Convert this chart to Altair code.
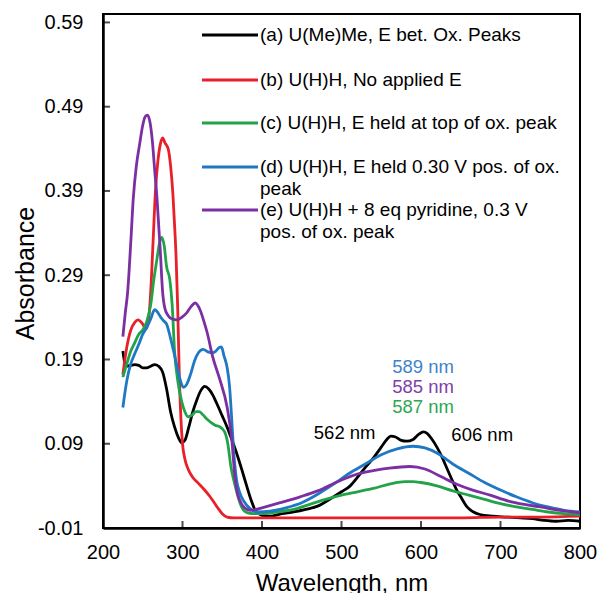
import altair as alt
import pandas as pd

# ---------------- data ----------------
series_names = [
    "(a) U(Me)Me, E bet. Ox. Peaks",
    "(b) U(H)H, No applied E",
    "(c) U(H)H, E held at top of ox. peak",
    "(d) U(H)H, E held 0.30 V pos. of ox.\npeak",
    "(e) U(H)H + 8 eq pyridine, 0.3 V\npos. of ox. peak",
]
series_colors = ["#000000", "#e8202a", "#22a34a", "#1f78c4", "#7b2fa3"]

wl_a = [225, 227, 230, 235, 240, 245, 250, 255, 260, 265, 270, 275, 280, 285, 290, 295, 299, 303, 308,
        313, 318, 323, 328, 333, 338, 343, 350, 356, 362, 368, 375, 381, 386, 391, 396, 400, 410, 425,
        440, 455, 470, 485, 500, 511, 520, 530, 540, 550, 557, 562, 568, 575, 582, 590, 597, 603, 608,
        614, 620, 626, 633, 640, 645, 650, 658, 666, 674, 690, 708, 725, 740, 755, 770, 785, 800]
ab_a = [0.200, 0.188, 0.182, 0.183, 0.184, 0.183, 0.180, 0.180, 0.182, 0.184, 0.182, 0.175, 0.155,
        0.128, 0.110, 0.097, 0.091, 0.094, 0.110, 0.128, 0.142, 0.153, 0.158, 0.155, 0.148, 0.138,
        0.123, 0.110, 0.095, 0.079, 0.058, 0.039, 0.024, 0.012, 0.007, 0.005, 0.004, 0.007, 0.009,
        0.012, 0.016, 0.024, 0.033, 0.040, 0.050, 0.062, 0.073, 0.086, 0.095, 0.099, 0.098, 0.094,
        0.093, 0.095, 0.101, 0.104, 0.102, 0.095, 0.086, 0.075, 0.060, 0.045, 0.035, 0.027, 0.015,
        0.009, 0.006, 0.004, 0.003, 0.002, 0.001, -0.001, -0.002, -0.001, -0.002]

wl_b = [225, 230, 235, 240, 244, 250, 254, 257, 260, 263, 266, 269, 272, 275, 278, 282, 285, 288, 290,
        292, 294, 296, 298, 300, 303, 307, 313, 320, 327, 334, 340, 345, 350, 356, 365, 380, 400, 450,
        500, 550, 600, 650, 700, 750, 800]
ab_b = [0.172, 0.205, 0.225, 0.234, 0.237, 0.232, 0.226, 0.235, 0.270, 0.330, 0.390, 0.425, 0.445,
        0.453, 0.447, 0.440, 0.420, 0.385, 0.350, 0.310, 0.250, 0.170, 0.120, 0.090, 0.072, 0.060,
        0.050, 0.043, 0.036, 0.028, 0.020, 0.013, 0.007, 0.003, 0.002, 0.002, 0.002, 0.002, 0.002,
        0.002, 0.002, 0.002, 0.003, 0.003, 0.004]

wl_c = [225, 230, 235, 240, 245, 250, 255, 260, 264, 268, 271, 274, 277, 280, 284, 287, 290, 294, 299,
        303, 307, 312, 317, 321, 326, 331, 336, 341, 347, 353, 357, 361, 365, 369, 373, 377, 382, 390,
        400, 420, 440, 460, 480, 500, 520, 540, 560, 580, 590, 600, 620, 640, 660, 680, 700, 720, 740,
        760, 780, 800]
ab_c = [0.169, 0.185, 0.200, 0.210, 0.220, 0.225, 0.235, 0.255, 0.285, 0.310, 0.328, 0.335, 0.325,
        0.300, 0.285, 0.255, 0.200, 0.165, 0.140, 0.128, 0.122, 0.124, 0.128, 0.128, 0.124, 0.119,
        0.115, 0.112, 0.110, 0.104, 0.090, 0.062, 0.045, 0.030, 0.018, 0.011, 0.008, 0.007, 0.007,
        0.009, 0.012, 0.018, 0.024, 0.029, 0.033, 0.037, 0.042, 0.045, 0.045, 0.044, 0.040, 0.034,
        0.029, 0.024, 0.019, 0.015, 0.012, 0.009, 0.007, 0.006]

wl_d = [225, 230, 235, 240, 245, 250, 255, 260, 265, 268, 272, 276, 280, 285, 290, 294, 298, 301, 305,
        310, 315, 320, 326, 332, 338, 342, 346, 349, 352, 356, 359, 362, 364, 368, 372, 377, 385, 395,
        410, 430, 450, 470, 490, 510, 530, 550, 570, 590, 605, 620, 640, 660, 680, 700, 720, 740, 760,
        780, 800]
ab_d = [0.133, 0.165, 0.185, 0.197, 0.208, 0.220, 0.228, 0.238, 0.249, 0.247, 0.241, 0.236, 0.232,
        0.215, 0.195, 0.178, 0.163, 0.157, 0.160, 0.172, 0.188, 0.198, 0.202, 0.199, 0.198, 0.200,
        0.204, 0.205, 0.195, 0.181, 0.160, 0.118, 0.086, 0.047, 0.032, 0.022, 0.013, 0.009, 0.010,
        0.014, 0.020, 0.030, 0.042, 0.055, 0.066, 0.077, 0.084, 0.087, 0.085, 0.079, 0.066, 0.055,
        0.044, 0.035, 0.027, 0.020, 0.015, 0.011, 0.009]

wl_e = [225, 228, 231, 235, 238, 242, 246, 250, 253, 256, 259, 262, 265, 268, 272, 275, 278, 282, 287,
        293, 299, 305, 311, 316, 322, 327, 331, 338, 347, 356, 362, 366, 369, 372, 378, 385, 392, 400,
        423, 448, 470, 500, 520, 540, 560, 586, 605, 625, 645, 665, 687, 710, 730, 750, 775, 800]
ab_e = [0.217, 0.245, 0.270, 0.330, 0.380, 0.420, 0.445, 0.468, 0.478, 0.480, 0.472, 0.450, 0.415,
        0.380, 0.320, 0.270, 0.250, 0.242, 0.238, 0.237, 0.240, 0.245, 0.253, 0.257, 0.249, 0.235,
        0.222, 0.193, 0.166, 0.134, 0.095, 0.050, 0.032, 0.023, 0.014, 0.011, 0.012, 0.014, 0.020,
        0.027, 0.034, 0.047, 0.054, 0.058, 0.061, 0.063, 0.060, 0.051, 0.042, 0.035, 0.029, 0.022,
        0.018, 0.015, 0.011, 0.008]

x_ticks = [200, 300, 400, 500, 600, 700, 800]
y_ticks = [-0.01, 0.09, 0.19, 0.29, 0.39, 0.49, 0.59]

ann_text = ["589 nm", "585 nm", "587 nm", "562 nm", "606 nm"]
ann_wl = [602.5, 602.5, 602.5, 504, 677]
ann_ab = [0.181, 0.157, 0.134, 0.103, 0.100]
ann_color = ["#3f83c9", "#8040a8", "#2ea652", "#000000", "#000000"]

# legend layout (pixels inside the plot area)
leg_row_y = [21, 66, 109, 153, 196]

# ---------------- build tables ----------------
rows = []
for name, wls, abs_ in zip(series_names,
                           [wl_a, wl_b, wl_c, wl_d, wl_e],
                           [ab_a, ab_b, ab_c, ab_d, ab_e]):
    for w, a in zip(wls, abs_):
        rows.append({"series": name, "wl": w, "ab": a})
df = pd.DataFrame(rows)

df_leg = pd.DataFrame({"series": series_names, "ly": leg_row_y,
                       "lx1": 99, "lx2": 155, "tx": 157})
df_ann = pd.DataFrame({"wl": ann_wl, "ab": ann_ab, "txt": ann_text, "col": ann_color})
df_xt = pd.DataFrame({"wl": x_ticks})
df_yt = pd.DataFrame({"ab": y_ticks})

W, H = 477, 514
FONT = "Liberation Sans"

x_enc = alt.X("wl:Q",
              scale=alt.Scale(domain=[200, 800], nice=False, zero=False),
              axis=alt.Axis(values=x_ticks, title="Wavelength, nm", format="d",
                            labelPadding=14, labelFlush=False, labelOverlap=False,
                            titleX=W / 2, titleY=62, titleFontSize=24,
                            titleBaseline="alphabetic"))
y_enc = alt.Y("ab:Q",
              scale=alt.Scale(domain=[-0.01, 0.60], nice=False, zero=False),
              axis=alt.Axis(values=y_ticks, title="Absorbance",
                            labelExpr="datum.value < 0 ? '-0.01' : format(datum.value, '.2f')",
                            labelPadding=20, labelFlush=False, labelOverlap=False,
                            titleX=-70, titleY=H / 2 + 2, titleFontSize=25,
                            titleBaseline="alphabetic"))
color_enc = alt.Color("series:N",
                      scale=alt.Scale(domain=series_names, range=series_colors),
                      legend=None)

lines = alt.Chart(df).mark_line(strokeWidth=2.8, interpolate="monotone").encode(
    x=x_enc, y=y_enc, color=color_enc, detail="series:N")

xticks = alt.Chart(df_xt).mark_tick(orient="vertical", size=7, thickness=2, color="black").encode(
    x=x_enc, y=alt.value(H - 3.5))
yticks = alt.Chart(df_yt).mark_tick(orient="horizontal", size=7, thickness=2, color="black").encode(
    y=y_enc, x=alt.value(3.5))

leg_lines = alt.Chart(df_leg).mark_rule(strokeWidth=3).encode(
    x=alt.X("lx1:Q", scale=None, axis=None), x2="lx2:Q",
    y=alt.Y("ly:Q", scale=None, axis=None), color=color_enc)
leg_text = alt.Chart(df_leg).mark_text(
    align="left", baseline="middle", fontSize=19, font=FONT, color="black",
    lineBreak="\n", lineHeight=22).encode(
    x=alt.X("tx:Q", scale=None, axis=None),
    y=alt.Y("ly:Q", scale=None, axis=None),
    text="series:N")

ann = alt.Chart(df_ann).mark_text(align="center", baseline="middle", fontSize=18.5,
                                  font=FONT).encode(
    x=x_enc, y=y_enc, text="txt:N", color=alt.Color("col:N", scale=None))

chart = alt.layer(lines, xticks, yticks, leg_lines, leg_text, ann).properties(
    width=W, height=H,
    autosize=alt.AutoSizeParams(type="none"),
    padding={"left": 103, "top": 14, "right": 21, "bottom": 65},
    background="white",
).configure_view(stroke="black", strokeWidth=2).configure_axis(
    labelFont=FONT, titleFont=FONT, labelFontSize=20,
    labelColor="black", titleColor="black", titleFontWeight="normal",
    domainColor="black", domainWidth=2.5, grid=False, ticks=False,
)

chart.save("out.html", embed_options={"renderer": "svg", "actions": False})
